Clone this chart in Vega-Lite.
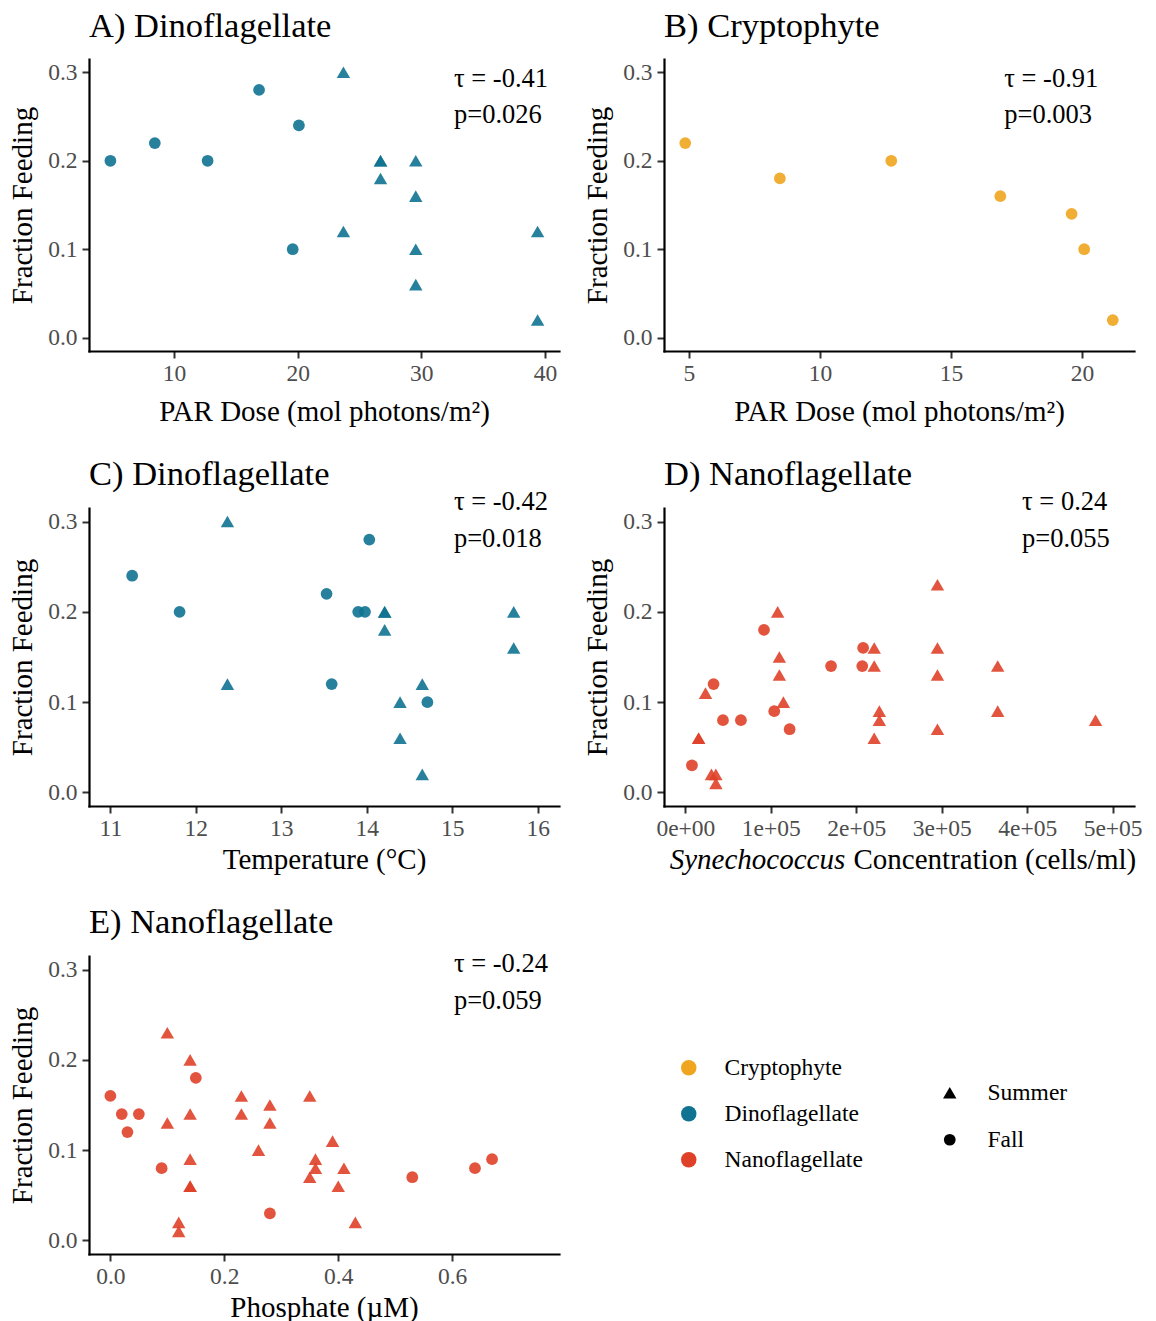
{
  "$schema": "https://vega.github.io/schema/vega-lite/v6.json",
  "background": "white",
  "padding": {"left": 7, "top": 8, "right": 4, "bottom": 0},
  "datasets": {
    "dinoPAR": [
      {"par": 4.86, "feeding": 0.20, "taxon": "Dinoflagellate", "season": "Fall"},
      {"par": 8.45, "feeding": 0.22, "taxon": "Dinoflagellate", "season": "Fall"},
      {"par": 12.72, "feeding": 0.20, "taxon": "Dinoflagellate", "season": "Fall"},
      {"par": 16.88, "feeding": 0.28, "taxon": "Dinoflagellate", "season": "Fall"},
      {"par": 20.1, "feeding": 0.24, "taxon": "Dinoflagellate", "season": "Fall"},
      {"par": 19.6, "feeding": 0.10, "taxon": "Dinoflagellate", "season": "Fall"},
      {"par": 23.7, "feeding": 0.30, "taxon": "Dinoflagellate", "season": "Summer"},
      {"par": 23.7, "feeding": 0.12, "taxon": "Dinoflagellate", "season": "Summer"},
      {"par": 26.7, "feeding": 0.20, "taxon": "Dinoflagellate", "season": "Summer"},
      {"par": 26.7, "feeding": 0.20, "taxon": "Dinoflagellate", "season": "Summer"},
      {"par": 26.7, "feeding": 0.18, "taxon": "Dinoflagellate", "season": "Summer"},
      {"par": 29.55, "feeding": 0.20, "taxon": "Dinoflagellate", "season": "Summer"},
      {"par": 29.55, "feeding": 0.16, "taxon": "Dinoflagellate", "season": "Summer"},
      {"par": 29.55, "feeding": 0.10, "taxon": "Dinoflagellate", "season": "Summer"},
      {"par": 29.55, "feeding": 0.06, "taxon": "Dinoflagellate", "season": "Summer"},
      {"par": 39.4, "feeding": 0.12, "taxon": "Dinoflagellate", "season": "Summer"},
      {"par": 39.4, "feeding": 0.02, "taxon": "Dinoflagellate", "season": "Summer"}
    ],
    "cryptoPAR": [
      {"par": 4.86, "feeding": 0.22, "taxon": "Cryptophyte", "season": "Fall"},
      {"par": 8.47, "feeding": 0.18, "taxon": "Cryptophyte", "season": "Fall"},
      {"par": 12.72, "feeding": 0.20, "taxon": "Cryptophyte", "season": "Fall"},
      {"par": 16.88, "feeding": 0.16, "taxon": "Cryptophyte", "season": "Fall"},
      {"par": 19.6, "feeding": 0.14, "taxon": "Cryptophyte", "season": "Fall"},
      {"par": 20.08, "feeding": 0.10, "taxon": "Cryptophyte", "season": "Fall"},
      {"par": 21.17, "feeding": 0.02, "taxon": "Cryptophyte", "season": "Fall"}
    ],
    "dinoTemp": [
      {"temp": 11.255, "feeding": 0.24, "taxon": "Dinoflagellate", "season": "Fall"},
      {"temp": 11.81, "feeding": 0.20, "taxon": "Dinoflagellate", "season": "Fall"},
      {"temp": 13.53, "feeding": 0.22, "taxon": "Dinoflagellate", "season": "Fall"},
      {"temp": 13.59, "feeding": 0.12, "taxon": "Dinoflagellate", "season": "Fall"},
      {"temp": 13.9, "feeding": 0.20, "taxon": "Dinoflagellate", "season": "Fall"},
      {"temp": 13.98, "feeding": 0.20, "taxon": "Dinoflagellate", "season": "Fall"},
      {"temp": 14.03, "feeding": 0.28, "taxon": "Dinoflagellate", "season": "Fall"},
      {"temp": 14.71, "feeding": 0.10, "taxon": "Dinoflagellate", "season": "Fall"},
      {"temp": 12.37, "feeding": 0.30, "taxon": "Dinoflagellate", "season": "Summer"},
      {"temp": 12.37, "feeding": 0.12, "taxon": "Dinoflagellate", "season": "Summer"},
      {"temp": 14.21, "feeding": 0.20, "taxon": "Dinoflagellate", "season": "Summer"},
      {"temp": 14.21, "feeding": 0.20, "taxon": "Dinoflagellate", "season": "Summer"},
      {"temp": 14.21, "feeding": 0.18, "taxon": "Dinoflagellate", "season": "Summer"},
      {"temp": 14.39, "feeding": 0.10, "taxon": "Dinoflagellate", "season": "Summer"},
      {"temp": 14.39, "feeding": 0.06, "taxon": "Dinoflagellate", "season": "Summer"},
      {"temp": 14.65, "feeding": 0.12, "taxon": "Dinoflagellate", "season": "Summer"},
      {"temp": 14.65, "feeding": 0.02, "taxon": "Dinoflagellate", "season": "Summer"},
      {"temp": 15.72, "feeding": 0.20, "taxon": "Dinoflagellate", "season": "Summer"},
      {"temp": 15.72, "feeding": 0.16, "taxon": "Dinoflagellate", "season": "Summer"}
    ],
    "nanoSyn": [
      {"syn": 7700, "feeding": 0.03, "taxon": "Nanoflagellate", "season": "Fall"},
      {"syn": 33000, "feeding": 0.12, "taxon": "Nanoflagellate", "season": "Fall"},
      {"syn": 44000, "feeding": 0.08, "taxon": "Nanoflagellate", "season": "Fall"},
      {"syn": 65000, "feeding": 0.08, "taxon": "Nanoflagellate", "season": "Fall"},
      {"syn": 92000, "feeding": 0.18, "taxon": "Nanoflagellate", "season": "Fall"},
      {"syn": 104000, "feeding": 0.09, "taxon": "Nanoflagellate", "season": "Fall"},
      {"syn": 122000, "feeding": 0.07, "taxon": "Nanoflagellate", "season": "Fall"},
      {"syn": 170500, "feeding": 0.14, "taxon": "Nanoflagellate", "season": "Fall"},
      {"syn": 208000, "feeding": 0.16, "taxon": "Nanoflagellate", "season": "Fall"},
      {"syn": 207000, "feeding": 0.14, "taxon": "Nanoflagellate", "season": "Fall"},
      {"syn": 15500, "feeding": 0.06, "taxon": "Nanoflagellate", "season": "Summer"},
      {"syn": 15500, "feeding": 0.06, "taxon": "Nanoflagellate", "season": "Summer"},
      {"syn": 23600, "feeding": 0.11, "taxon": "Nanoflagellate", "season": "Summer"},
      {"syn": 30500, "feeding": 0.02, "taxon": "Nanoflagellate", "season": "Summer"},
      {"syn": 35700, "feeding": 0.02, "taxon": "Nanoflagellate", "season": "Summer"},
      {"syn": 35700, "feeding": 0.01, "taxon": "Nanoflagellate", "season": "Summer"},
      {"syn": 108000, "feeding": 0.20, "taxon": "Nanoflagellate", "season": "Summer"},
      {"syn": 110000, "feeding": 0.15, "taxon": "Nanoflagellate", "season": "Summer"},
      {"syn": 110000, "feeding": 0.13, "taxon": "Nanoflagellate", "season": "Summer"},
      {"syn": 114700, "feeding": 0.10, "taxon": "Nanoflagellate", "season": "Summer"},
      {"syn": 221000, "feeding": 0.16, "taxon": "Nanoflagellate", "season": "Summer"},
      {"syn": 221000, "feeding": 0.14, "taxon": "Nanoflagellate", "season": "Summer"},
      {"syn": 221000, "feeding": 0.06, "taxon": "Nanoflagellate", "season": "Summer"},
      {"syn": 227000, "feeding": 0.09, "taxon": "Nanoflagellate", "season": "Summer"},
      {"syn": 227000, "feeding": 0.08, "taxon": "Nanoflagellate", "season": "Summer"},
      {"syn": 295000, "feeding": 0.23, "taxon": "Nanoflagellate", "season": "Summer"},
      {"syn": 295000, "feeding": 0.16, "taxon": "Nanoflagellate", "season": "Summer"},
      {"syn": 295000, "feeding": 0.13, "taxon": "Nanoflagellate", "season": "Summer"},
      {"syn": 295000, "feeding": 0.07, "taxon": "Nanoflagellate", "season": "Summer"},
      {"syn": 365500, "feeding": 0.14, "taxon": "Nanoflagellate", "season": "Summer"},
      {"syn": 365500, "feeding": 0.09, "taxon": "Nanoflagellate", "season": "Summer"},
      {"syn": 480000, "feeding": 0.08, "taxon": "Nanoflagellate", "season": "Summer"}
    ],
    "nanoPhos": [
      {"phos": 0.0, "feeding": 0.16, "taxon": "Nanoflagellate", "season": "Fall"},
      {"phos": 0.02, "feeding": 0.14, "taxon": "Nanoflagellate", "season": "Fall"},
      {"phos": 0.05, "feeding": 0.14, "taxon": "Nanoflagellate", "season": "Fall"},
      {"phos": 0.03, "feeding": 0.12, "taxon": "Nanoflagellate", "season": "Fall"},
      {"phos": 0.09, "feeding": 0.08, "taxon": "Nanoflagellate", "season": "Fall"},
      {"phos": 0.15, "feeding": 0.18, "taxon": "Nanoflagellate", "season": "Fall"},
      {"phos": 0.28, "feeding": 0.03, "taxon": "Nanoflagellate", "season": "Fall"},
      {"phos": 0.53, "feeding": 0.07, "taxon": "Nanoflagellate", "season": "Fall"},
      {"phos": 0.64, "feeding": 0.08, "taxon": "Nanoflagellate", "season": "Fall"},
      {"phos": 0.67, "feeding": 0.09, "taxon": "Nanoflagellate", "season": "Fall"},
      {"phos": 0.10, "feeding": 0.23, "taxon": "Nanoflagellate", "season": "Summer"},
      {"phos": 0.10, "feeding": 0.13, "taxon": "Nanoflagellate", "season": "Summer"},
      {"phos": 0.14, "feeding": 0.20, "taxon": "Nanoflagellate", "season": "Summer"},
      {"phos": 0.14, "feeding": 0.14, "taxon": "Nanoflagellate", "season": "Summer"},
      {"phos": 0.14, "feeding": 0.09, "taxon": "Nanoflagellate", "season": "Summer"},
      {"phos": 0.14, "feeding": 0.06, "taxon": "Nanoflagellate", "season": "Summer"},
      {"phos": 0.14, "feeding": 0.06, "taxon": "Nanoflagellate", "season": "Summer"},
      {"phos": 0.12, "feeding": 0.02, "taxon": "Nanoflagellate", "season": "Summer"},
      {"phos": 0.12, "feeding": 0.01, "taxon": "Nanoflagellate", "season": "Summer"},
      {"phos": 0.23, "feeding": 0.16, "taxon": "Nanoflagellate", "season": "Summer"},
      {"phos": 0.23, "feeding": 0.14, "taxon": "Nanoflagellate", "season": "Summer"},
      {"phos": 0.28, "feeding": 0.15, "taxon": "Nanoflagellate", "season": "Summer"},
      {"phos": 0.28, "feeding": 0.13, "taxon": "Nanoflagellate", "season": "Summer"},
      {"phos": 0.26, "feeding": 0.10, "taxon": "Nanoflagellate", "season": "Summer"},
      {"phos": 0.35, "feeding": 0.16, "taxon": "Nanoflagellate", "season": "Summer"},
      {"phos": 0.35, "feeding": 0.07, "taxon": "Nanoflagellate", "season": "Summer"},
      {"phos": 0.36, "feeding": 0.09, "taxon": "Nanoflagellate", "season": "Summer"},
      {"phos": 0.36, "feeding": 0.08, "taxon": "Nanoflagellate", "season": "Summer"},
      {"phos": 0.39, "feeding": 0.11, "taxon": "Nanoflagellate", "season": "Summer"},
      {"phos": 0.41, "feeding": 0.08, "taxon": "Nanoflagellate", "season": "Summer"},
      {"phos": 0.40, "feeding": 0.06, "taxon": "Nanoflagellate", "season": "Summer"},
      {"phos": 0.43, "feeding": 0.02, "taxon": "Nanoflagellate", "season": "Summer"}
    ],
    "statsA": [
      {"label": "τ = -0.41", "x": 32.64, "y": 0.2925},
      {"label": "p=0.026", "x": 32.64, "y": 0.2516}
    ],
    "statsB": [
      {"label": "τ = -0.91", "x": 17.03, "y": 0.2925},
      {"label": "p=0.003", "x": 17.03, "y": 0.2516}
    ],
    "statsC": [
      {"label": "τ = -0.42", "x": 15.02, "y": 0.3217},
      {"label": "p=0.018", "x": 15.02, "y": 0.2807}
    ],
    "statsD": [
      {"label": "τ = 0.24", "x": 394000, "y": 0.3217},
      {"label": "p=0.055", "x": 394000, "y": 0.2807}
    ],
    "statsE": [
      {"label": "τ = -0.24", "x": 0.603, "y": 0.306},
      {"label": "p=0.059", "x": 0.603, "y": 0.265}
    ]
  },
  "config": {
    "font": "Liberation Serif",
    "view": {"stroke": null},
    "point": {"filled": true, "opacity": 0.9},
    "text": {"font": "Liberation Serif", "fontSize": 26.5, "align": "left", "baseline": "middle", "color": "black"},
    "title": {"font": "Liberation Serif", "fontSize": 34.5, "fontWeight": "normal", "color": "black", "anchor": "start", "frame": "group", "baseline": "alphabetic"},
    "axis": {
      "grid": false,
      "domainColor": "black",
      "domainWidth": 2.2,
      "domainCap": "square",
      "tickColor": "#333333",
      "tickWidth": 2,
      "tickSize": 7,
      "labelColor": "#4D4D4D",
      "labelFont": "Liberation Serif",
      "labelFontSize": 23.5,
      "titleFont": "Liberation Serif",
      "titleFontSize": 29,
      "titleFontWeight": "normal",
      "titleColor": "black"
    },
    "axisX": {"labelPadding": 3, "titleBaseline": "alphabetic"},
    "axisY": {"labelPadding": 5},
    "legend": {
      "title": null,
      "padding": 0,
      "labelFont": "Liberation Serif",
      "labelFontSize": 23.5,
      "labelColor": "black",
      "symbolOpacity": 1,
      "symbolStrokeWidth": 0
    }
  },
  "vconcat": [
    {
      "spacing": 23,
      "hconcat": [
        {
          "width": 470,
          "height": 292,
          "title": {"text": "A) Dinoflagellate", "offset": 15},
          "layer": [
            {
              "data": {"name": "dinoPAR"},
              "mark": {"type": "point"},
              "encoding": {
                "x": {"field": "par", "type": "quantitative", "scale": {"domain": [3.13, 41.13], "nice": false, "zero": false}, "axis": {"values": [10, 20, 30, 40], "format": "d", "title": "PAR Dose (mol photons/m²)", "titleY": 69}},
                "y": {"field": "feeding", "type": "quantitative", "scale": {"domain": [-0.015, 0.315], "nice": false, "zero": false}, "axis": {"values": [0, 0.1, 0.2, 0.3], "format": ".1f", "title": "Fraction Feeding", "titleX": -52}},
                "color": {
                  "field": "taxon", "type": "nominal",
                  "scale": {"domain": ["Cryptophyte", "Dinoflagellate", "Nanoflagellate"], "range": ["#EFA51F", "#0F7391", "#DF4128"]},
                  "legend": {"orient": "none", "legendX": 588, "legendY": 997, "symbolType": "circle", "symbolSize": 240, "labelOffset": 24, "rowPadding": 21}
                },
                "shape": {
                  "field": "season", "type": "nominal",
                  "scale": {"domain": ["Summer", "Fall"], "range": ["triangle-up", "circle"]},
                  "legend": {"orient": "none", "legendX": 849, "legendY": 1022, "symbolFillColor": "black", "labelOffset": 26, "rowPadding": 22}
                },
                "size": {
                  "field": "season", "type": "nominal",
                  "scale": {"domain": ["Summer", "Fall"], "range": [180, 138]},
                  "legend": {"orient": "none", "legendX": 849, "legendY": 1022, "symbolFillColor": "black", "labelOffset": 26, "rowPadding": 22}
                }
              }
            },
            {
              "data": {"name": "statsA"},
              "mark": {"type": "text"},
              "encoding": {
                "x": {"field": "x", "type": "quantitative"},
                "y": {"field": "y", "type": "quantitative"},
                "text": {"field": "label"}
              }
            }
          ]
        },
        {
          "width": 470,
          "height": 292,
          "title": {"text": "B) Cryptophyte", "offset": 15},
          "layer": [
            {
              "data": {"name": "cryptoPAR"},
              "mark": {"type": "point"},
              "encoding": {
                "x": {"field": "par", "type": "quantitative", "scale": {"domain": [4.05, 21.98], "nice": false, "zero": false}, "axis": {"values": [5, 10, 15, 20], "format": "d", "title": "PAR Dose (mol photons/m²)", "titleY": 69}},
                "y": {"field": "feeding", "type": "quantitative", "scale": {"domain": [-0.015, 0.315], "nice": false, "zero": false}, "axis": {"values": [0, 0.1, 0.2, 0.3], "format": ".1f", "title": "Fraction Feeding", "titleX": -52}},
                "color": {"field": "taxon", "type": "nominal"},
                "shape": {"field": "season", "type": "nominal"},
                "size": {"field": "season", "type": "nominal"}
              }
            },
            {
              "data": {"name": "statsB"},
              "mark": {"type": "text"},
              "encoding": {
                "x": {"field": "x", "type": "quantitative"},
                "y": {"field": "y", "type": "quantitative"},
                "text": {"field": "label"}
              }
            }
          ]
        }
      ]
    },
    {
      "spacing": 23,
      "hconcat": [
        {
          "width": 470,
          "height": 298,
          "title": {"text": "C) Dinoflagellate", "offset": -4},
          "layer": [
            {
              "data": {"name": "dinoTemp"},
              "mark": {"type": "point"},
              "encoding": {
                "x": {"field": "temp", "type": "quantitative", "scale": {"domain": [10.75, 16.25], "nice": false, "zero": false}, "axis": {"values": [11, 12, 13, 14, 15, 16], "format": "d", "title": "Temperature (°C)", "titleY": 62}},
                "y": {"field": "feeding", "type": "quantitative", "scale": {"domain": [-0.015, 0.315], "nice": false, "zero": false}, "axis": {"values": [0, 0.1, 0.2, 0.3], "format": ".1f", "title": "Fraction Feeding", "titleX": -52}},
                "color": {"field": "taxon", "type": "nominal"},
                "shape": {"field": "season", "type": "nominal"},
                "size": {"field": "season", "type": "nominal"}
              }
            },
            {
              "data": {"name": "statsC"},
              "mark": {"type": "text"},
              "encoding": {
                "x": {"field": "x", "type": "quantitative"},
                "y": {"field": "y", "type": "quantitative"},
                "text": {"field": "label"}
              }
            }
          ]
        },
        {
          "width": 470,
          "height": 298,
          "title": {"text": "D) Nanoflagellate", "offset": -4},
          "layer": [
            {
              "data": {"name": "nanoSyn"},
              "mark": {"type": "point"},
              "encoding": {
                "x": {"field": "syn", "type": "quantitative", "scale": {"domain": [-25000, 525000], "nice": false, "zero": false}, "axis": {"values": [0, 100000, 200000, 300000, 400000, 500000], "labelExpr": "datum.value == 0 ? '0e+00' : (datum.value / 100000) + 'e+05'", "title": "Concentration (cells/ml)", "titleAlign": "left", "titleX": 189, "titleY": 62}},
                "y": {"field": "feeding", "type": "quantitative", "scale": {"domain": [-0.015, 0.315], "nice": false, "zero": false}, "axis": {"values": [0, 0.1, 0.2, 0.3], "format": ".1f", "title": "Fraction Feeding", "titleX": -52}},
                "color": {"field": "taxon", "type": "nominal"},
                "shape": {"field": "season", "type": "nominal"},
                "size": {"field": "season", "type": "nominal"}
              }
            },
            {
              "data": {"name": "statsD"},
              "mark": {"type": "text"},
              "encoding": {
                "x": {"field": "x", "type": "quantitative", "scale": {"domain": [-25000, 525000], "nice": false, "zero": false}, "axis": {"orient": "bottom", "title": "Synechococcus", "titleFontStyle": "italic", "titleAlign": "center", "titleX": 93, "titleY": 62, "labels": false, "ticks": false, "domain": false}},
                "y": {"field": "y", "type": "quantitative"},
                "text": {"field": "label"}
              }
            }
          ],
          "resolve": {"scale": {"x": "independent"}}
        }
      ]
    },
    {
      "hconcat": [
        {
          "width": 470,
          "height": 298,
          "title": {"text": "E) Nanoflagellate", "offset": 10.5},
          "layer": [
            {
              "data": {"name": "nanoPhos"},
              "mark": {"type": "point"},
              "encoding": {
                "x": {"field": "phos", "type": "quantitative", "scale": {"domain": [-0.0375, 0.7875], "nice": false, "zero": false}, "axis": {"values": [0, 0.2, 0.4, 0.6], "format": ".1f", "title": "Phosphate (µM)", "titleY": 62}},
                "y": {"field": "feeding", "type": "quantitative", "scale": {"domain": [-0.015, 0.315], "nice": false, "zero": false}, "axis": {"values": [0, 0.1, 0.2, 0.3], "format": ".1f", "title": "Fraction Feeding", "titleX": -52}},
                "color": {"field": "taxon", "type": "nominal"},
                "shape": {"field": "season", "type": "nominal"},
                "size": {"field": "season", "type": "nominal"}
              }
            },
            {
              "data": {"name": "statsE"},
              "mark": {"type": "text"},
              "encoding": {
                "x": {"field": "x", "type": "quantitative"},
                "y": {"field": "y", "type": "quantitative"},
                "text": {"field": "label"}
              }
            }
          ]
        }
      ]
    }
  ],
  "spacing": 31
}
